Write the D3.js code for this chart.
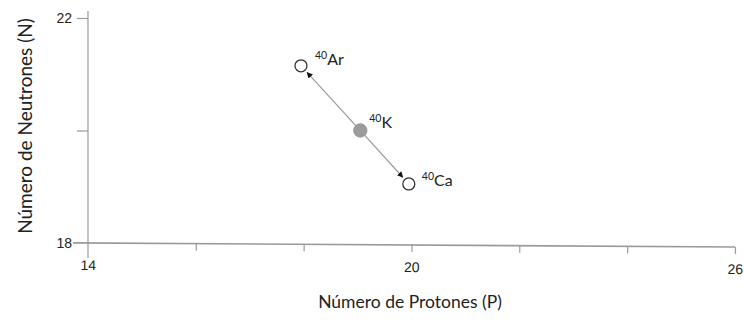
<!DOCTYPE html>
<html>
<head>
<meta charset="utf-8">
<script src="https://cdn.jsdelivr.net/npm/d3@7"></script>
<style>
  body { margin: 0; background: #fff; }
  svg { display: block; font-family: Lato, "Open Sans", sans-serif; }
</style>
</head>
<body>
<svg id="chart" width="744" height="322"></svg>
<script>
// values
const xTicks = [14, 16, 18, 20, 22, 24, 26];
const xTickLabels = ["14", "", "", "20", "", "", "26"];
const yTicks = [18, 20, 22];
const yTickLabels = ["18", "", "22"];

const isotopes = ["Ar", "K", "Ca"];
const massNumbers = ["40", "40", "40"];
const protons = [17.95, 19.05, 19.95];
const neutrons = [21.15, 20.0, 19.05];
const filled = [false, true, false];

const svg = d3.select("#chart");
const gray = "#9a9a9a";
const textColor = "#222";

const x = d3.scaleLinear().domain([14, 26]).range([88, 735]);
const y = d3.scaleLinear().domain([18, 22]).range([243, 18]);

// arrowhead
svg.append("defs").append("marker")
  .attr("id", "arrow")
  .attr("viewBox", "0 0 10 10")
  .attr("refX", 9)
  .attr("refY", 5)
  .attr("markerWidth", 6)
  .attr("markerHeight", 6)
  .attr("markerUnits", "userSpaceOnUse")
  .attr("orient", "auto")
  .append("path")
  .attr("d", "M0,0 L10,5 L0,10 Z")
  .attr("fill", "#111");

// Y axis
const yAxis = svg.append("g")
  .attr("transform", `translate(${x(14)},0)`)
  .call(d3.axisLeft(y).tickValues(yTicks).tickFormat((d, i) => yTickLabels[i]).tickSize(11).tickPadding(5));
yAxis.select(".domain").remove();
yAxis.append("line")
  .attr("y1", 11).attr("y2", 258)
  .attr("stroke", gray).attr("stroke-width", 1.2);
yAxis.selectAll(".tick line").attr("stroke", gray).attr("stroke-width", 1.2);
yAxis.selectAll(".tick text")
  .attr("fill", textColor).attr("font-size", 14);
yAxis.selectAll(".tick").filter(d => d === 18).select("line").remove();

// X axis (slightly tilted as in the source)
const tilt = Math.atan2(4, 647) * 180 / Math.PI;
const xAxis = svg.append("g")
  .attr("transform", `translate(0,${y(18)}) rotate(${tilt},${x(14)},0)`)
  .call(d3.axisBottom(x).tickValues(xTicks).tickFormat((d, i) => xTickLabels[i]).tickSize(7).tickPadding(10).tickSizeOuter(0));
xAxis.select(".domain").remove();
xAxis.append("line")
  .attr("x1", 73).attr("x2", x(26))
  .attr("stroke", gray).attr("stroke-width", 1.6);
xAxis.selectAll(".tick line").attr("stroke", gray).attr("stroke-width", 1.2);
xAxis.selectAll(".tick").filter(d => d === 14).select("line").remove();
xAxis.selectAll(".tick text")
  .attr("fill", textColor).attr("font-size", 14);

// Axis titles
svg.append("text")
  .attr("x", 410).attr("y", 308)
  .attr("text-anchor", "middle")
  .attr("font-size", 17.5)
  .attr("fill", textColor)
  .text("Número de Protones (P)");

svg.append("text")
  .attr("transform", "translate(32,126) rotate(-90)")
  .attr("text-anchor", "middle")
  .attr("font-size", 19)
  .attr("fill", textColor)
  .text("Número de Neutrones (N)");

// Decay arrows from K to Ar and Ca
const r = 6;
const parent = 1;
[0, 2].forEach(i => {
  const x0 = x(protons[parent]), y0 = y(neutrons[parent]);
  const x1 = x(protons[i]), y1 = y(neutrons[i]);
  const len = Math.hypot(x1 - x0, y1 - y0);
  const ux = (x1 - x0) / len, uy = (y1 - y0) / len;
  svg.append("line")
    .attr("x1", x0 + ux * r).attr("y1", y0 + uy * r)
    .attr("x2", x1 - ux * (r + 3)).attr("y2", y1 - uy * (r + 3))
    .attr("stroke", gray)
    .attr("stroke-width", 1.2)
    .attr("marker-end", "url(#arrow)");
});

// Points
svg.selectAll(".pt")
  .data(isotopes)
  .enter()
  .append("circle")
  .attr("class", "pt")
  .attr("cx", (d, i) => x(protons[i]))
  .attr("cy", (d, i) => y(neutrons[i]))
  .attr("r", (d, i) => filled[i] ? 6.5 : r)
  .attr("fill", (d, i) => filled[i] ? "#9b9b9b" : "#fff")
  .attr("stroke", (d, i) => filled[i] ? "#9b9b9b" : "#333")
  .attr("stroke-width", 1.3);

// Labels with superscript mass numbers
const labelOffsets = [[14, -1], [9, -3], [13, 2]];
svg.selectAll(".lbl")
  .data(isotopes)
  .enter()
  .append("text")
  .attr("class", "lbl")
  .attr("x", (d, i) => x(protons[i]) + labelOffsets[i][0])
  .attr("y", (d, i) => y(neutrons[i]) + labelOffsets[i][1])
  .attr("fill", textColor)
  .attr("font-size", 16)
  .each(function(d, i) {
    const t = d3.select(this);
    t.append("tspan").attr("font-size", 10.5).attr("dy", -6).text(massNumbers[i]);
    t.append("tspan").attr("dy", 6).text(d);
  });
</script>
</body>
</html>
